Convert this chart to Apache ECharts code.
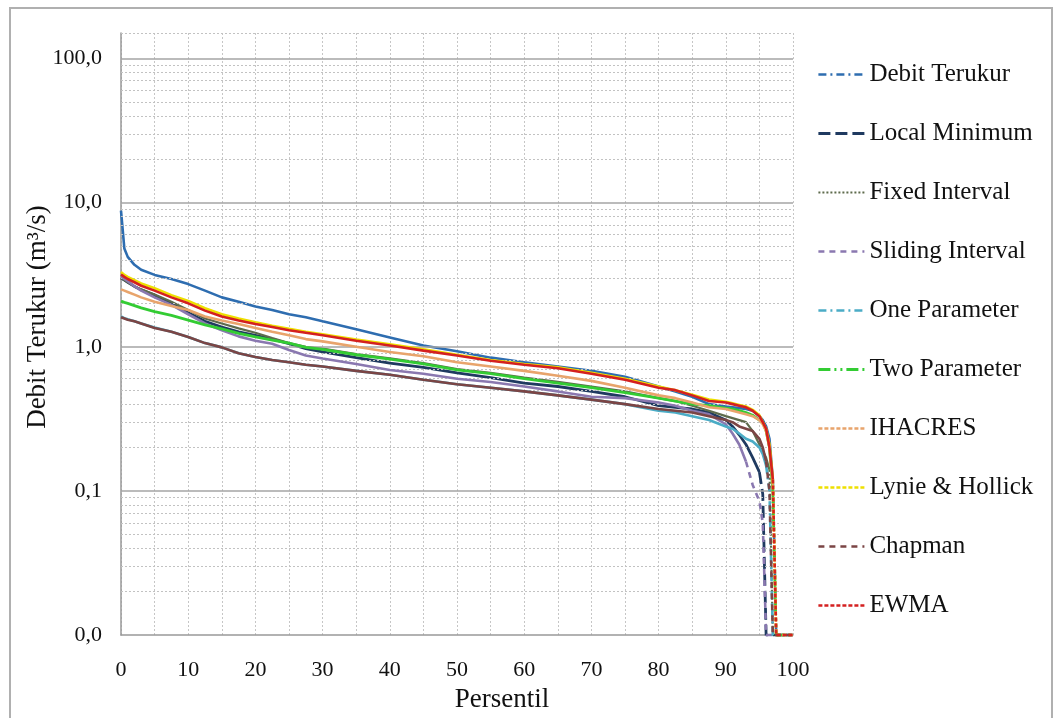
<!DOCTYPE html>
<html><head><meta charset="utf-8">
<script src="https://cdn.jsdelivr.net/npm/echarts@6/dist/echarts.min.js"></script>
<style>
html,body{margin:0;padding:0;background:#fff;}
#chart{position:absolute;left:0;top:0;width:1055px;height:718px;}
#frame{position:absolute;left:9px;top:7px;width:1040px;height:730px;border:2px solid #b0b0b0;pointer-events:none;}
</style></head><body>
<div id="chart"></div><div id="frame"></div>
<script>
// Percentile positions (x) shared by all series
const percentile = [0, 0.5, 1, 2, 3, 5, 7.5, 10, 12.5, 15, 17.5, 20, 22.5, 25, 27.5, 30, 35, 40, 45, 50, 55, 60, 65, 70, 75, 80, 82.5, 85, 87.5, 90, 91, 92, 93, 94, 95, 95.5, 96, 96.5, 97, 97.5, 98, 100];

const debitTerukur   = [8.8, 4.8, 4.2, 3.7, 3.42, 3.15, 2.95, 2.72, 2.45, 2.2, 2.05, 1.9, 1.8, 1.68, 1.6, 1.5, 1.32, 1.16, 1.02, 0.93, 0.84, 0.78, 0.73, 0.68, 0.62, 0.53, 0.49, 0.45, 0.4, 0.385, 0.38, 0.375, 0.37, 0.36, 0.33, 0.31, 0.28, 0.23, 0.12, 0.01, 0.01, 0.01];
const localMinimum   = [3.0, 2.9, 2.8, 2.62, 2.48, 2.28, 2.0, 1.72, 1.5, 1.37, 1.27, 1.2, 1.13, 1.05, 0.97, 0.92, 0.84, 0.77, 0.72, 0.66, 0.61, 0.56, 0.53, 0.49, 0.45, 0.39, 0.38, 0.37, 0.35, 0.31, 0.28, 0.245, 0.21, 0.17, 0.135, 0.095, 0.01, 0.01, 0.01, 0.01, 0.01, 0.01];
const fixedInterval  = [3.0, 2.9, 2.8, 2.62, 2.5, 2.3, 2.05, 1.8, 1.57, 1.45, 1.34, 1.25, 1.15, 1.06, 1.0, 0.97, 0.89, 0.83, 0.77, 0.7, 0.66, 0.61, 0.57, 0.53, 0.49, 0.44, 0.42, 0.39, 0.36, 0.33, 0.32, 0.31, 0.3, 0.26, 0.21, 0.19, 0.17, 0.14, 0.01, 0.01, 0.01, 0.01];
const slidingInterval= [3.1, 2.95, 2.85, 2.63, 2.45, 2.2, 1.95, 1.68, 1.45, 1.3, 1.18, 1.1, 1.05, 0.95, 0.87, 0.83, 0.76, 0.69, 0.65, 0.6, 0.57, 0.53, 0.49, 0.45, 0.44, 0.41, 0.39, 0.36, 0.34, 0.29, 0.25, 0.21, 0.16, 0.11, 0.085, 0.06, 0.01, 0.01, 0.01, 0.01, 0.01, 0.01];
const oneParameter   = [1.62, 1.58, 1.55, 1.5, 1.45, 1.36, 1.27, 1.17, 1.06, 0.99, 0.9, 0.85, 0.81, 0.78, 0.75, 0.73, 0.68, 0.64, 0.59, 0.55, 0.52, 0.49, 0.46, 0.43, 0.4, 0.36, 0.35, 0.33, 0.31, 0.28, 0.27, 0.25, 0.23, 0.22, 0.2, 0.18, 0.15, 0.1, 0.01, 0.01, 0.01, 0.01];
const twoParameter   = [2.07, 2.03, 2.0, 1.93, 1.86, 1.75, 1.65, 1.53, 1.42, 1.33, 1.24, 1.17, 1.11, 1.06, 0.99, 0.96, 0.88, 0.82, 0.76, 0.69, 0.65, 0.6, 0.56, 0.52, 0.48, 0.44, 0.42, 0.4, 0.39, 0.375, 0.37, 0.36, 0.35, 0.335, 0.31, 0.3, 0.26, 0.2, 0.1, 0.01, 0.01, 0.01];
const ihacres        = [2.5, 2.45, 2.4, 2.3, 2.2, 2.05, 1.92, 1.8, 1.62, 1.52, 1.44, 1.35, 1.27, 1.2, 1.13, 1.09, 1.0, 0.92, 0.86, 0.78, 0.73, 0.68, 0.63, 0.58, 0.52, 0.46, 0.44, 0.41, 0.38, 0.37, 0.36, 0.35, 0.34, 0.33, 0.31, 0.29, 0.26, 0.2, 0.11, 0.01, 0.01, 0.01];
const lynieHollick   = [3.3, 3.15, 3.05, 2.9, 2.75, 2.55, 2.28, 2.08, 1.85, 1.68, 1.57, 1.48, 1.4, 1.33, 1.27, 1.22, 1.12, 1.04, 0.96, 0.88, 0.81, 0.76, 0.72, 0.66, 0.6, 0.53, 0.5, 0.465, 0.43, 0.415, 0.405, 0.395, 0.385, 0.365, 0.335, 0.3, 0.27, 0.21, 0.12, 0.01, 0.01, 0.01];
const chapman        = [1.6, 1.57, 1.54, 1.5, 1.45, 1.35, 1.27, 1.17, 1.06, 0.99, 0.9, 0.85, 0.81, 0.78, 0.75, 0.73, 0.68, 0.64, 0.59, 0.55, 0.52, 0.49, 0.46, 0.43, 0.4, 0.37, 0.36, 0.35, 0.33, 0.31, 0.3, 0.28, 0.27, 0.26, 0.23, 0.2, 0.16, 0.1, 0.01, 0.01, 0.01, 0.01];
const ewma           = [3.17, 3.05, 2.95, 2.8, 2.65, 2.45, 2.2, 2.0, 1.78, 1.62, 1.52, 1.44, 1.37, 1.3, 1.25, 1.2, 1.1, 1.02, 0.94, 0.87, 0.8, 0.75, 0.71, 0.65, 0.59, 0.52, 0.5, 0.46, 0.42, 0.41, 0.4, 0.39, 0.38, 0.36, 0.33, 0.3, 0.27, 0.2, 0.12, 0.01, 0.01, 0.01];

const seriesNames = ['Debit Terukur', 'Local Minimum', 'Fixed Interval', 'Sliding Interval', 'One Parameter', 'Two Parameter', 'IHACRES', 'Lynie & Hollick', 'Chapman', 'EWMA'];
const seriesValues = [debitTerukur, localMinimum, fixedInterval, slidingInterval, oneParameter, twoParameter, ihacres, lynieHollick, chapman, ewma];

// y-axis settings
const yMin = 0.01, yMax = 150;
const majorLines = [0.1, 1, 10, 100];
const decades = [0.01, 0.1, 1, 10];
const xTickStep = 5;

const colors = ['#2E6DB0', '#1F3A60', '#5E6B4C', '#8A78B0', '#4BACC6', '#33CC33', '#E8A46C', '#EEE000', '#7B4545', '#D42020'];
const dashes = [[8,4,2,4], [12,5], [2,2], [6,5], [8,4,2,4], [12,4,2,4,2,4], [4,2], [4,2], [6,5], [4,2]];
const widths = [2.6, 2.8, 2.2, 2.6, 2.6, 2.8, 2.6, 2.6, 2.6, 2.6];

const FONT = 'Liberation Serif';

// grid lines (drawn through the y scale)
const gridLineData = [];
majorLines.forEach(v => gridLineData.push({yAxis: v, lineStyle: {color: '#a4a4a4', width: 1.5, type: 'solid'}}));
decades.forEach(d => { for (let k = 2; k <= 9; k++) gridLineData.push({yAxis: +(d * k).toPrecision(3), lineStyle: {color: '#c2c2c2', width: 1, type: [2, 2]}}); });
gridLineData.push({yAxis: yMax, lineStyle: {color: '#c2c2c2', width: 1, type: [2, 2]}});

const series = [{
  type: 'line', data: [], silent: true, z: 1, animation: false,
  markLine: {silent: true, symbol: 'none', label: {show: false}, animation: false, data: gridLineData}
}];

seriesValues.forEach((vals, i) => {
  const pts = percentile.map((x, j) => [x, vals[j]]);
  let s = vals.findIndex(v => v < 0.17);
  if (s < 0) s = pts.length - 1;
  const base = {name: seriesNames[i], type: 'line', symbol: 'none', animation: false, z: 2 + i, itemStyle: {color: colors[i]}};
  series.push(Object.assign({}, base, {data: pts.slice(0, s + 1), lineStyle: {color: colors[i], width: widths[i], type: 'solid'}}));
  series.push(Object.assign({}, base, {data: pts.slice(s), lineStyle: {color: colors[i], width: widths[i], type: dashes[i]}}));
});

const chart = echarts.init(document.getElementById('chart'), null, {renderer: 'canvas'});
chart.setOption({
  backgroundColor: '#ffffff',
  animation: false,
  grid: {left: 121, right: 262, top: 33, bottom: 82, containLabel: false},
  legend: {
    orient: 'vertical', left: 812, top: 57,
    itemWidth: 46, itemHeight: 14, itemGap: 34,
    selectedMode: false,
    textStyle: {fontFamily: FONT, fontSize: 25, color: '#111'},
    data: seriesNames.map((n, i) => ({name: n, itemStyle: {opacity: 0}, lineStyle: {color: colors[i], width: widths[i], type: dashes[i]}}))
  },
  xAxis: {
    type: 'value', min: 0, max: 100, interval: xTickStep,
    name: 'Persentil', nameLocation: 'middle', nameGap: 45,
    nameTextStyle: {fontFamily: FONT, fontSize: 27, color: '#111', padding: [0, 0, 0, 90]},
    axisLine: {show: true, lineStyle: {color: '#999', width: 1.5}},
    axisTick: {show: false},
    axisLabel: {fontFamily: FONT, fontSize: 22, color: '#111', margin: 24,
      formatter: v => (v % 10 === 0 ? String(v) : '')},
    splitLine: {show: true, lineStyle: {color: '#c6c6c6', width: 1, type: [2, 2]}}
  },
  yAxis: {
    type: 'log', logBase: 10, min: yMin, max: yMax,
    name: 'Debit Terukur (m³/s)', nameLocation: 'middle', nameGap: 70, nameMoveOverlap: false,
    nameTextStyle: {fontFamily: FONT, fontSize: 27, color: '#111', padding: [0, 0, 0, 34]},
    axisLine: {show: true, lineStyle: {color: '#999', width: 1.5}},
    axisTick: {show: false},
    axisLabel: {fontFamily: FONT, fontSize: 22, color: '#111', margin: 19,
      formatter: v => { const l = Math.log10(v); return Math.abs(l - Math.round(l)) < 1e-6 ? v.toFixed(1).replace('.', ',') : ''; }},
    splitLine: {show: false}
  },
  series: series
});
</script>
</body></html>
